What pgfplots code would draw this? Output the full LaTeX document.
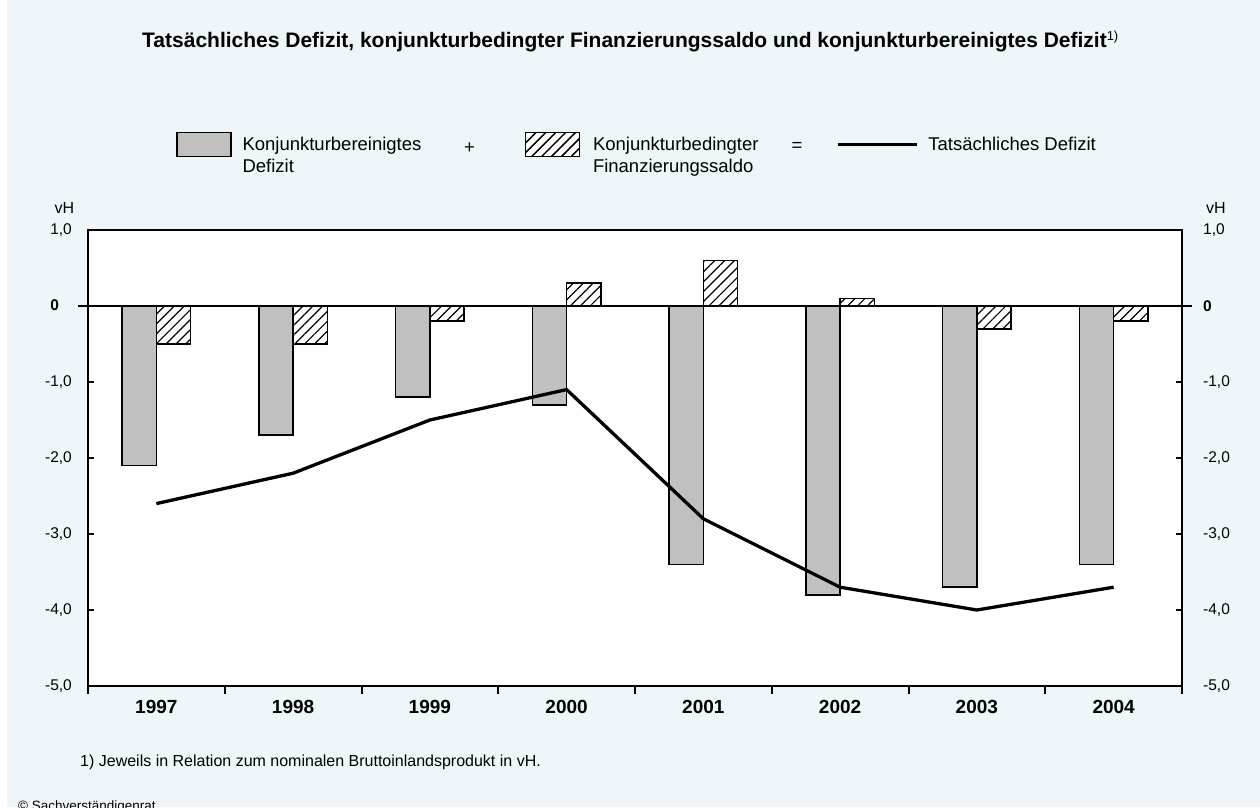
\documentclass[border=0pt]{standalone}
\usepackage{fontspec}
\setmainfont{Liberation Sans}
\usepackage{pgfplots}
\pgfplotsset{compat=1.18}
\usetikzlibrary{patterns.meta}
\definecolor{bg}{RGB}{238,246,249}
\definecolor{barg}{RGB}{192,192,192}
\tikzset{hatchp/.style={postaction={pattern={Lines[angle=45,distance=7pt,line width=1.2pt]},pattern color=black}}}
\pgfplotsset{geom/.style={at={(88pt,121pt)}, anchor=south west, scale only axis,
  width=1094pt, height=456pt, xmin=-0.5, xmax=7.5, ymin=-5, ymax=1}}
\begin{document}
\begin{tikzpicture}[x=1pt,y=1pt]
\path[use as bounding box] (0,0) rectangle (1260,807);
\fill[bg] (0,0) rectangle (1260,807);
\fill[white] (0,0) rectangle (7,807);
\node[anchor=base west, inner sep=0pt, font=\fontsize{21}{25}\selectfont\bfseries] at (142,759)
  {Tatsächliches Defizit, konjunkturbedingter Finanzierungssaldo und konjunkturbereinigtes Defizit\raisebox{7pt}{\fontsize{13}{13}\selectfont\mdseries 1)}};
\begin{axis}[geom,
  axis background/.style={fill=white},
  axis line style={line width=2.6pt},
  xtick={0,...,7}, xticklabels={1997,1998,1999,2000,2001,2002,2003,2004},
  xtick style={draw=none},
  xticklabel style={font=\fontsize{19}{22}\selectfont\bfseries, inner sep=0pt, yshift=-14.5pt},
  ytick={-5,-4,-3,-2,-1,0,1},
  yticklabels={{-5,0},{-4,0},{-3,0},{-2,0},{-1,0},{\textbf{0}\phantom{,0}},{1,0}},
  tick align=inside, major tick length=6pt,
  ytick style={line width=1.6pt, black},
  yticklabel style={font=\fontsize{15.5}{18}\selectfont, inner sep=0pt, xshift=-16pt},
  legend columns=5, legend cell align=left,
  legend style={at={(0.08044,1.1875)}, anchor=west, draw=none, fill=none,
    inner sep=0pt, outer sep=0pt, column sep=0pt, row sep=0pt,
    font=\fontsize{18.5}{22}\selectfont, nodes={inner sep=0pt, outer sep=0pt}},
]
\addplot[ybar, bar width=0.25, bar shift=-0.125, fill=barg, draw=black, line width=1.5pt,
  legend image code/.code={\draw[fill=barg, draw=black, line width=1.5pt] (0pt,-12pt) rectangle (54pt,12pt); \path (0pt,0pt) (65pt,0pt);}]
  coordinates {(0,-2.1) (1,-1.7) (2,-1.2) (3,-1.3) (4,-3.4) (5,-3.8) (6,-3.7) (7,-3.4)};
\addlegendentry[text width=217pt, align=left]{Konjunkturbereinigtes\\Defizit}
\addlegendimage{empty legend}
\addlegendentry[text width=20pt, align=center, yshift=-4pt]{+}
\addplot[ybar, bar width=0.25, bar shift=0.125, fill=white, draw=black, line width=1.5pt, hatchp,
  legend image code/.code={\draw[fill=white, draw=black, line width=1.5pt, hatchp] (45pt,-12pt) rectangle (99pt,12pt); \path (0pt,0pt) (112pt,0pt);}]
  coordinates {(0,-0.5) (1,-0.5) (2,-0.2) (3,0.3) (4,0.6) (5,0.1) (6,-0.3) (7,-0.2)};
\addlegendentry[text width=194pt, align=left]{Konjunkturbedingter\\Finanzierungssaldo}
\addlegendimage{empty legend}
\addlegendentry[text width=20pt, align=center, yshift=-3pt]{=}
\addplot[sharp plot, black, line width=3.3pt, mark=none,
  legend image code/.code={\draw[black, line width=3.3pt] (29pt,0pt) -- (108pt,0pt); \path (0pt,0pt) (118pt,0pt);}]
  coordinates {(0,-2.6) (1,-2.2) (2,-1.5) (3,-1.1) (4,-2.8) (5,-3.7) (6,-4.0) (7,-3.7)};
\addlegendentry[align=left]{Tatsächliches Defizit}
\end{axis}
\begin{axis}[geom, axis line style={draw=none}, xtick=\empty,
  ytick={-5,-4,-3,-2,-1,0,1},
  yticklabels={{-5,0},{-4,0},{-3,0},{-2,0},{-1,0},{\textbf{0}},{1,0}},
  yticklabel pos=right, ytick style={draw=none},
  yticklabel style={font=\fontsize{15.5}{18}\selectfont, inner sep=0pt, anchor=west, xshift=21pt}]
\end{axis}
\begin{axis}[geom, axis line style={draw=none},
  xtick={-0.5,0.5,...,7.5}, xticklabels={}, xtick pos=bottom, ytick=\empty,
  tick align=outside, major tick length=7.5pt, tick style={black, line width=2pt}]
\end{axis}
\begin{axis}[geom, axis line style={draw=none}, xtick=\empty,
  ytick={0}, yticklabels={}, ytick pos=both,
  ymajorgrids, major grid style={black, line width=2pt},
  tick align=outside, major tick length=10pt, tick style={black, line width=2pt}]
\end{axis}
\node[anchor=base east, inner sep=0pt, font=\fontsize{16}{19}\selectfont] at (74.5,593) {vH};
\node[anchor=base west, inner sep=0pt, font=\fontsize{16}{19}\selectfont] at (1206,593) {vH};
\node[anchor=base west, inner sep=0pt, font=\fontsize{16}{19}\selectfont] at (80,40.5) {1) Jeweils in Relation zum nominalen Bruttoinlandsprodukt in vH.};
\node[anchor=base west, inner sep=0pt, font=\fontsize{13.5}{16}\selectfont] at (18,-3) {© Sachverständigenrat};
\end{tikzpicture}
\end{document}
